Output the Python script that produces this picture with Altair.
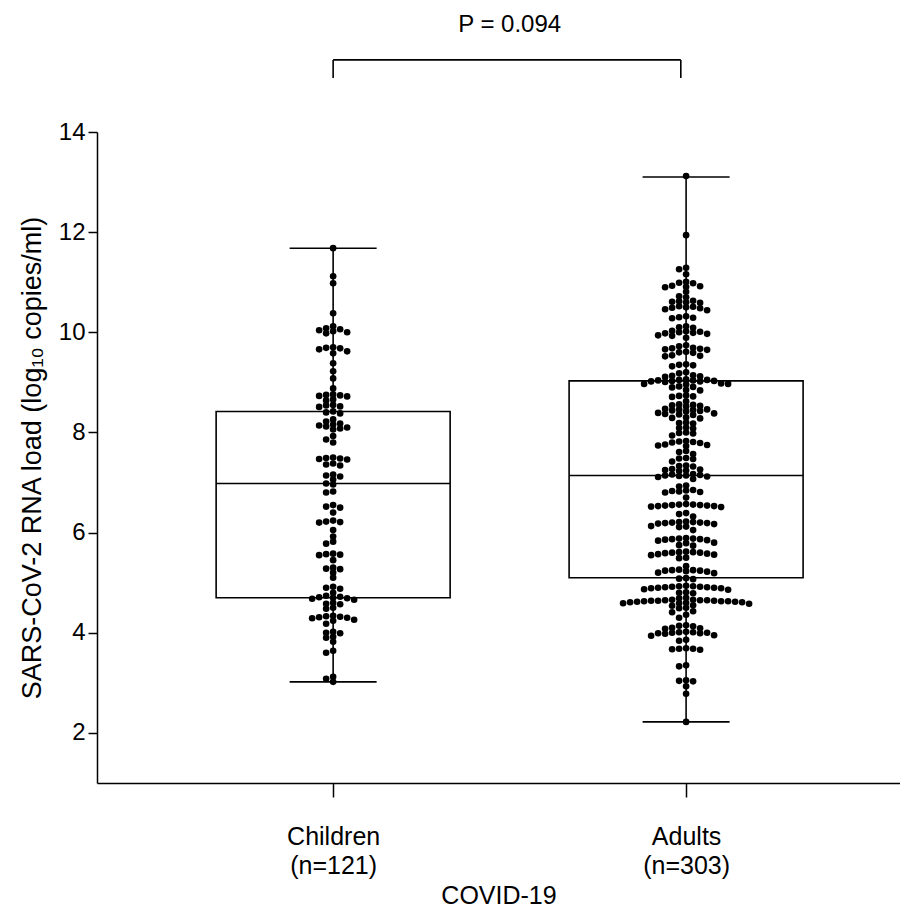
import altair as alt
import pandas as pd

# ---------------- data ----------------
groups = ["Children", "Adults"]
group_n = [121, 303]

children_values = [
    11.68,
    11.12, 10.98,
    10.38,
    10.12, 10.08, 10.06, 10.04, 10.02, 10.00, 9.98,
    9.70, 9.69, 9.68, 9.66, 9.62, 9.58,
    9.38, 9.22, 9.08, 8.88,
    8.76, 8.75, 8.74, 8.73, 8.72,
    8.66, 8.64,
    8.55, 8.54, 8.52, 8.51,
    8.42, 8.40, 8.38,
    8.26, 8.22,
    8.18, 8.16, 8.14, 8.12, 8.10, 8.08, 8.06,
    7.93, 7.86, 7.80,
    7.50, 7.49, 7.48, 7.47, 7.46,
    7.38, 7.36, 7.34,
    7.16, 7.14, 7.12, 7.06, 6.98, 6.96,
    6.82, 6.80,
    6.55, 6.52, 6.50,
    6.40,
    6.24, 6.22, 6.21, 6.20,
    6.05,
    5.92,
    5.82, 5.78,
    5.58, 5.57, 5.56, 5.55,
    5.45,
    5.30, 5.28, 5.27,
    5.20, 5.10,
    4.92, 4.90, 4.88,
    4.80,
    4.74, 4.72, 4.71, 4.70, 4.69, 4.68, 4.66,
    4.60, 4.58, 4.57,
    4.50, 4.48,
    4.34, 4.33, 4.32, 4.31, 4.30, 4.29,
    4.26, 4.24,
    4.18,
    4.02, 4.00, 3.99,
    3.92, 3.90,
    3.82,
    3.64, 3.60,
    3.12, 3.08, 3.02,
]

adults_values = [
    13.12,
    11.94,
    11.29, 11.26,
    11.16,
    11.01, 10.99, 10.98,
    10.93, 10.92, 10.91, 10.90,
    10.81,
    10.72, 10.70,
    10.63, 10.62, 10.61, 10.60, 10.59,
    10.52, 10.51, 10.50, 10.49, 10.48,
    10.46, 10.44,
    10.32, 10.30, 10.29, 10.28,
    10.12, 10.10, 10.09,
    10.03, 10.02, 10.01, 10.00, 9.99, 9.98, 9.97,
    9.94, 9.93,
    9.89,
    9.74, 9.72,
    9.69, 9.68, 9.67, 9.66, 9.65,
    9.61, 9.60, 9.59,
    9.54, 9.53, 9.52,
    9.36, 9.35, 9.34,
    9.32,
    9.20, 9.18,
    9.14, 9.13, 9.12, 9.11,
    9.06, 9.05, 9.05, 9.04, 9.04, 9.03, 9.03, 9.02, 9.02, 9.01,
    8.98, 8.97, 8.97, 8.96,
    8.92, 8.91, 8.90,
    8.85, 8.84,
    8.74, 8.73, 8.72, 8.71,
    8.62,
    8.56, 8.55, 8.54, 8.53, 8.52,
    8.47, 8.46, 8.46, 8.45, 8.44, 8.43, 8.42,
    8.39, 8.38, 8.37, 8.36, 8.35,
    8.30, 8.29, 8.28,
    8.20, 8.19, 8.18,
    8.10, 8.09, 8.08,
    8.00, 7.99, 7.98,
    7.94,
    7.83, 7.82, 7.81, 7.80, 7.79,
    7.76, 7.75, 7.74, 7.73,
    7.63, 7.61,
    7.57,
    7.49, 7.48, 7.47,
    7.42,
    7.34, 7.33, 7.32,
    7.27, 7.26, 7.25, 7.24, 7.23,
    7.17, 7.16, 7.15, 7.14, 7.14, 7.13, 7.12, 7.11,
    7.07,
    6.94, 6.92,
    6.85, 6.84, 6.83, 6.82, 6.81, 6.80,
    6.70,
    6.57, 6.56, 6.56, 6.55, 6.55, 6.54, 6.54, 6.53, 6.53, 6.52, 6.51,
    6.39, 6.37,
    6.32,
    6.22, 6.21, 6.21, 6.20, 6.20, 6.19, 6.19, 6.18, 6.17,
    6.13, 6.12, 6.11,
    6.05,
    5.89, 5.88, 5.88, 5.87, 5.87, 5.86, 5.85, 5.84,
    5.80, 5.79,
    5.75, 5.74,
    5.62, 5.61, 5.61, 5.60, 5.60, 5.59, 5.58, 5.57, 5.56, 5.55,
    5.50, 5.49,
    5.33,
    5.26, 5.25, 5.25, 5.24, 5.24, 5.23, 5.22,
    5.20, 5.19,
    5.09, 5.08, 5.07,
    4.94, 4.93, 4.93, 4.92, 4.92, 4.91, 4.91, 4.90, 4.90, 4.89, 4.89,
    4.87, 4.86,
    4.81, 4.80, 4.79,
    4.70, 4.69,
    4.66, 4.66, 4.65, 4.65, 4.65, 4.64, 4.64, 4.64, 4.63, 4.63, 4.63, 4.62, 4.62, 4.61, 4.61,
    4.60, 4.59, 4.59, 4.58,
    4.55, 4.54,
    4.50, 4.49,
    4.43, 4.41,
    4.36,
    4.30,
    4.15, 4.14, 4.13,
    4.10, 4.09, 4.08,
    4.02, 4.01, 4.01, 4.00, 4.00, 3.99, 3.99, 3.98,
    3.95, 3.94,
    3.86, 3.84,
    3.69, 3.68, 3.68, 3.67, 3.66,
    3.35, 3.33,
    3.05, 3.04, 3.03,
    2.93,
    2.78,
    2.22,
]

# box statistics as drawn in the figure
box_min = [3.02, 2.22]
box_q1 = [4.70, 5.10]
box_median = [6.98, 7.14]
box_q3 = [8.42, 9.03]
box_max = [11.68, 13.10]

p_label = "P = 0.094"
x_title = "COVID-19"
y_title = "SARS-CoV-2 RNA load (log\u2081\u2080 copies/ml)"
y_ticks = [2, 4, 6, 8, 10, 12, 14]

# ---------------- layout / style ----------------
FONT = "Liberation Sans"
PLOT_W = 803
PLOT_H = 651
XMIN, XMAX = -0.669, 1.606
YMIN, YMAX = 1, 14
px_per_x = PLOT_W / (XMAX - XMIN)
px_per_y = PLOT_H / (YMAX - YMIN)
DOT_STEP = 7.0      # horizontal spacing of swarm columns, px
MIN_DY = 5.0        # min vertical gap within a column, px
BOX_HALF = 117 / px_per_x
CAP_HALF = 43.5 / px_per_x


def swarm_offsets(values):
    order = sorted(range(len(values)), key=lambda i: -values[i])
    cols = {}
    offs = [0.0] * len(values)
    cand = [0]
    for k in range(1, 60):
        cand += [-k, k]
    for i in order:
        ypx = values[i] * px_per_y
        chosen = cand[-1]
        for k in cand:
            if all(abs(ypx - yy) >= MIN_DY for yy in cols.get(k, [])[-4:]):
                chosen = k
                break
        cols.setdefault(chosen, []).append(ypx)
        offs[i] = chosen * DOT_STEP
    return offs


rows = []
for gi, (g, vals) in enumerate(zip(groups, [children_values, adults_values])):
    offs = swarm_offsets(vals)
    for v, o in zip(vals, offs):
        rows.append({"group": g, "idx": gi, "value": v, "xpos": gi + o / px_per_x})
df_pts = pd.DataFrame(rows)

df_box = pd.DataFrame({
    "group": groups,
    "idx": list(range(len(groups))),
    "lo": box_min, "q1": box_q1, "med": box_median, "q3": box_q3, "hi": box_max,
})

label_expr = " : ".join(
    f"datum.value == {i} ? ['{g}', '(n={n})']" for i, (g, n) in enumerate(zip(groups, group_n))
) + " : ''"

xscale = alt.Scale(domain=[XMIN, XMAX], nice=False, zero=False)
yscale = alt.Scale(domain=[YMIN, YMAX], nice=False, zero=False)

xaxis = alt.Axis(
    values=list(range(len(groups))), labelExpr=label_expr, tickSize=14,
    labelFontSize=25, labelLineHeight=29, labelPadding=27, grid=False,
    title=x_title, titleFontSize=25, titleFontWeight="normal", titlePadding=5,
    domainColor="black", domainWidth=1.5, tickColor="black", tickWidth=1.5,
    labelColor="black", titleColor="black", labelFont=FONT, titleFont=FONT,
)
yaxis = alt.Axis(
    values=y_ticks, tickSize=9, labelFontSize=24, labelPadding=3, grid=False,
    title=y_title, titleFontSize=27, titleFontWeight="normal", titlePadding=12,
    domainColor="black", domainWidth=1.5, tickColor="black", tickWidth=1.5,
    labelColor="black", titleColor="black", labelFont=FONT, titleFont=FONT,
)

X = lambda f: alt.X(f, scale=xscale, axis=xaxis)
Y = lambda f: alt.Y(f, scale=yscale, axis=yaxis)

base_box = alt.Chart(df_box).transform_calculate(
    xl=f"datum.idx - {BOX_HALF}", xr=f"datum.idx + {BOX_HALF}",
    cl=f"datum.idx - {CAP_HALF}", cr=f"datum.idx + {CAP_HALF}",
)

box = base_box.mark_rect(fillOpacity=0, stroke="black", strokeWidth=1.6).encode(
    x=X("xl:Q"), x2="xr:Q", y=Y("q1:Q"), y2="q3:Q")
median = base_box.mark_rule(color="black", strokeWidth=1.6).encode(
    x=X("xl:Q"), x2="xr:Q", y=Y("med:Q"))
wlow = base_box.mark_rule(color="black", strokeWidth=1.6).encode(
    x=X("idx:Q"), y=Y("lo:Q"), y2="q1:Q")
whigh = base_box.mark_rule(color="black", strokeWidth=1.6).encode(
    x=X("idx:Q"), y=Y("q3:Q"), y2="hi:Q")
caplo = base_box.mark_rule(color="black", strokeWidth=1.6).encode(
    x=X("cl:Q"), x2="cr:Q", y=Y("lo:Q"))
caphi = base_box.mark_rule(color="black", strokeWidth=1.6).encode(
    x=X("cl:Q"), x2="cr:Q", y=Y("hi:Q"))

points = alt.Chart(df_pts).mark_circle(size=44, color="black", opacity=1).encode(
    x=X("xpos:Q"), y=Y("value:Q"))

BR_TOP, BR_BOT, P_Y = 15.44, 15.08, 16.14
BR_L, BR_R, P_X = 0.0, 0.985, 0.5
one = pd.DataFrame({"k": [0]})
br_h = alt.Chart(one).mark_rule(color="black", strokeWidth=1.6).encode(
    x=alt.X(datum=BR_L, scale=xscale, axis=xaxis), x2=alt.datum(BR_R),
    y=alt.Y(datum=BR_TOP, scale=yscale, axis=yaxis))
br_l = alt.Chart(one).mark_rule(color="black", strokeWidth=1.6).encode(
    x=alt.X(datum=BR_L, scale=xscale, axis=xaxis),
    y=alt.Y(datum=BR_TOP, scale=yscale, axis=yaxis), y2=alt.datum(BR_BOT))
br_r = alt.Chart(one).mark_rule(color="black", strokeWidth=1.6).encode(
    x=alt.X(datum=BR_R, scale=xscale, axis=xaxis),
    y=alt.Y(datum=BR_TOP, scale=yscale, axis=yaxis), y2=alt.datum(BR_BOT))
ptext = alt.Chart(one).mark_text(text=p_label, fontSize=24, font=FONT, color="black").encode(
    x=alt.X(datum=P_X, scale=xscale, axis=xaxis),
    y=alt.Y(datum=P_Y, scale=yscale, axis=yaxis))

chart = alt.layer(
    box, median, wlow, whigh, caplo, caphi, points, br_h, br_l, br_r, ptext
).properties(
    width=PLOT_W, height=PLOT_H,
    autosize=alt.AutoSizeParams(type="none"),
    padding={"left": 89, "top": 124, "right": 0, "bottom": 124},
    background="white",
).configure_view(stroke=None)

chart.save("out.html", embed_options={"renderer": "svg", "actions": False})
